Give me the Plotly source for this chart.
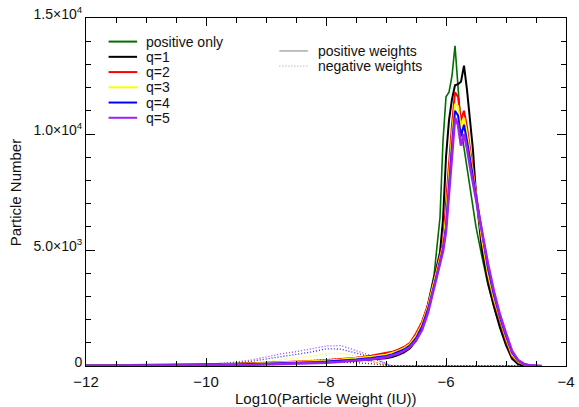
import plotly.graph_objects as go

# ---------------- data ----------------
xs = [-12.0, -11.5, -11.0, -10.5, -10.0, -9.75, -9.5, -9.25, -9.0, -8.75, -8.5, -8.25, -8.0, -7.75, -7.5, -7.25, -7.0,
      -6.9, -6.8, -6.7, -6.6, -6.5, -6.4, -6.3, -6.2, -6.1,
      -6.05,
      -6.0, -5.95, -5.9, -5.85, -5.8, -5.75, -5.7, -5.65, -5.6, -5.55, -5.5,
      -5.4, -5.3, -5.2, -5.1, -5.0, -4.9, -4.8, -4.7, -4.6, -4.5, -4.4]

pos_only = [30, 40, 50, 60, 80, 95, 110, 125, 140, 150, 165, 180, 195, 215, 240, 280, 350,
            400, 480, 600, 780, 1100, 1650, 2700, 3900, 6400,
            9700,
            11600, 11800, 12500, 13800, 12000, 10300, 9400, 8600, 7800, 6900, 6000,
            4700, 3500, 2550, 1700, 1000, 450, 200, 90, 35, 5, 0]
q1_pos = [15, 20, 30, 40, 55, 65, 80, 95, 110, 125, 140, 160, 180, 205, 235, 275, 330,
          390, 470, 590, 770, 1100, 1650, 2600, 3700, 4900,
          6300,
          9000, 10600, 11500, 12100, 12150, 12250, 12950, 11900, 10500, 9300, 7400,
          5000, 3600, 2550, 1650, 900, 320, 80, 10, 0, 0, 0]
q2_pos = [10, 15, 25, 35, 55, 70, 90, 110, 135, 160, 185, 215, 250, 300, 360, 440, 540,
          610, 700, 820, 1000, 1400, 1900, 2650, 3650, 4700,
          5300,
          7000, 8900, 10400, 11800, 11600, 10600, 11000, 10300, 9400, 8500, 7500,
          5400, 3900, 2800, 1900, 1100, 420, 170, 60, 10, 0, 0]
q3_pos = [10, 15, 20, 30, 45, 60, 80, 100, 120, 140, 165, 195, 230, 275, 330, 400, 490,
          560, 650, 770, 950, 1300, 1800, 2550, 3550, 4600,
          5150,
          6400, 8300, 9900, 11300, 11200, 10200, 10700, 10000, 9200, 8300, 7400,
          5500, 4000, 2900, 2000, 1200, 500, 200, 70, 15, 0, 0]
q4_pos = [10, 12, 18, 25, 40, 50, 65, 80, 100, 120, 140, 165, 195, 235, 285, 350, 430,
          500, 590, 710, 890, 1200, 1700, 2450, 3450, 4550,
          5050,
          6000, 7900, 9500, 11000, 10800, 9900, 10400, 9700, 8900, 8100, 7300,
          5600, 4200, 3050, 2100, 1300, 580, 230, 80, 20, 0, 0]
q5_pos = [5, 8, 12, 18, 28, 35, 45, 55, 70, 85, 100, 120, 145, 180, 225, 290, 380,
          440, 530, 650, 820, 1100, 1550, 2300, 3350, 4450,
          4950,
          5800, 7500, 9100, 10700, 10400, 9500, 10000, 9400, 8600, 7900, 7100,
          5700, 4400, 3200, 2200, 1400, 650, 260, 90, 25, 0, 0]

xs_neg = [-12.0, -11.5, -11.0, -10.5, -10.0, -9.75, -9.5, -9.25, -9.0, -8.75, -8.5, -8.25, -8.0,
          -7.75, -7.5, -7.25, -7.0, -6.9, -6.0, -5.0, -4.45]
q1_neg = [0, 2, 5, 8, 12, 18, 25, 38, 55, 75, 100, 125, 150, 160, 140, 100, 20, 0, 0, 0, 0]
q2_neg = [0, 3, 7, 12, 20, 32, 50, 75, 110, 150, 190, 245, 300, 330, 280, 200, 40, 0, 0, 0, 0]
q3_neg = [0, 4, 10, 18, 35, 55, 90, 140, 200, 265, 330, 420, 540, 560, 430, 300, 60, 0, 0, 0, 0]
q4_neg = [0, 5, 12, 25, 50, 85, 130, 200, 300, 400, 480, 600, 740, 730, 560, 380, 80, 0, 0, 0, 0]
q5_neg = [0, 5, 15, 30, 70, 110, 170, 260, 400, 520, 620, 730, 860, 880, 650, 450, 100, 0, 0, 0, 0]

names = ["positive only", "q=1", "q=2", "q=3", "q=4", "q=5"]
colors = ["#006e00", "#000000", "#ff0000", "#ffff00", "#0000ff", "#a020f0"]
widths = [1.6, 2.0, 2.0, 2.0, 2.0, 2.6]
pos_series = [pos_only, q1_pos, q2_pos, q3_pos, q4_pos, q5_pos]
neg_series = [None, q1_neg, q2_neg, q3_neg, q4_neg, q5_neg]

y_tickvals = [0, 5000, 10000, 15000]
y_ticktext = ["0", "5.0×10<sup>3</sup>", "1.0×10<sup>4</sup>", "1.5×10<sup>4</sup>"]
x_tickvals = [-12, -10, -8, -6, -4]

style_names = ["positive weights", "negative weights"]
style_dash = ["solid", "1px,2px"]

# ---------------- figure ----------------
W, H = 579, 407
L, R, T, B = 86, 4, 12, 41
pw, ph = W - L - R, H - T - B

def px(x):
    return (x - L) / pw

def py(y):
    return (H - B - y) / ph

fig = go.Figure()

for name, col, neg in zip(names, colors, neg_series):
    if neg is None:
        continue
    fig.add_trace(go.Scatter(x=xs_neg, y=neg, mode="lines", name=name + " neg",
                             line=dict(color=col, width=1.3, dash="1px,2px"),
                             opacity=0.85, showlegend=False))

for name, col, w, ys in zip(names, colors, widths, pos_series):
    fig.add_trace(go.Scatter(x=xs, y=ys, mode="lines", name=name,
                             line=dict(color=col, width=w), showlegend=False))

font_family = "Liberation Sans, Arial, Helvetica, sans-serif"
FS = 14

shapes = []
annotations = []
# legend 1 (series)
for i, (name, col) in enumerate(zip(names, colors)):
    yy = 36 + 15.5 * i
    shapes.append(dict(type="line", xref="paper", yref="paper",
                       x0=px(109), x1=px(138), y0=py(yy), y1=py(yy),
                       line=dict(color=col, width=2)))
    annotations.append(dict(xref="paper", yref="paper", x=px(145), y=py(yy),
                            text=name, showarrow=False, xanchor="left", yanchor="middle",
                            font=dict(size=FS, color="#111111", family=font_family)))
# legend 2 (line styles)
for i, (name, dash) in enumerate(zip(style_names, style_dash)):
    yy = 45.5 + 15.5 * i
    shapes.append(dict(type="line", xref="paper", yref="paper",
                       x0=px(283), x1=px(312), y0=py(yy), y1=py(yy),
                       line=dict(color="#aaaaaa", width=1.5 if dash == "solid" else 1.2, dash=dash)))
    annotations.append(dict(xref="paper", yref="paper", x=px(320), y=py(yy),
                            text=name, showarrow=False, xanchor="left", yanchor="middle",
                            font=dict(size=FS, color="#111111", family=font_family)))

# axis titles
annotations.append(dict(xref="paper", yref="paper", x=px(330), y=py(399),
                        text="Log10(Particle Weight (IU))", showarrow=False,
                        xanchor="center", yanchor="middle",
                        font=dict(size=15, color="#111111", family=font_family)))
annotations.append(dict(xref="paper", yref="paper", x=px(14), y=py(189),
                        text="Particle Number", showarrow=False, textangle=-90,
                        xanchor="center", yanchor="middle",
                        font=dict(size=15, color="#111111", family=font_family)))

fig.update_layout(
    width=W, height=H,
    margin=dict(l=L, r=R, t=T, b=B, pad=0),
    paper_bgcolor="white", plot_bgcolor="white",
    font=dict(family=font_family, size=14, color="#111111"),
    shapes=shapes, annotations=annotations,
    showlegend=False,
)
fig.update_xaxes(
    range=[-12, -4], tickmode="array", tickvals=x_tickvals,
    ticks="inside", ticklen=8, tickwidth=1, tickcolor="black",
    showline=True, linecolor="black", linewidth=1, mirror="ticks",
    showgrid=False, zeroline=False, ticklabeloverflow="allow",
    ticklabelstandoff=2,
    minor=dict(ticks="inside", dtick=0.5, tick0=-12, ticklen=5, tickcolor="black", showgrid=False),
    tickfont=dict(size=15),
)
fig.update_yaxes(
    range=[0, 15000], tickmode="array", tickvals=y_tickvals, ticktext=y_ticktext,
    ticks="inside", ticklen=9, tickwidth=1, tickcolor="black",
    showline=True, linecolor="black", linewidth=1, mirror="ticks",
    showgrid=False, zeroline=False, ticklabeloverflow="allow",
    ticklabelshift=-4,
    minor=dict(ticks="inside", dtick=1000, tick0=0, ticklen=5, tickcolor="black", showgrid=False),
    tickfont=dict(size=14),
)

fig.write_html("out.html")
